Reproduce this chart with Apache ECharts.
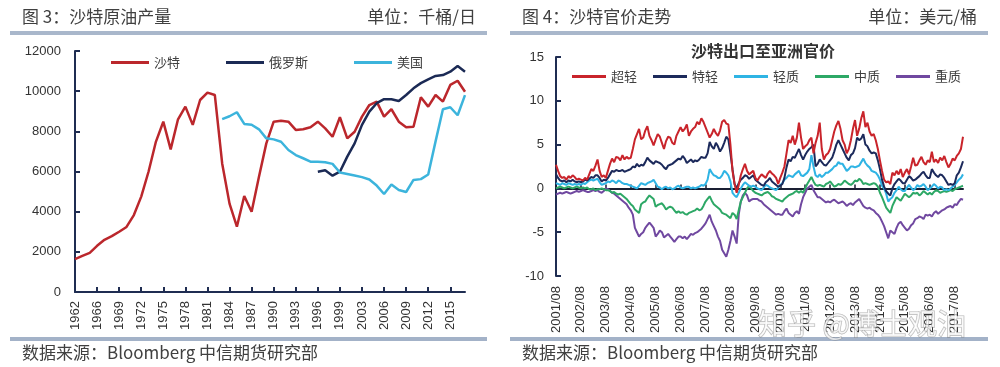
<!DOCTYPE html>
<html><head><meta charset="utf-8">
<script src="https://cdn.jsdelivr.net/npm/echarts@6/dist/echarts.min.js"></script>
<style>html,body{margin:0;padding:0;background:#fff}#c{width:1000px;height:367px}</style>
</head><body><div id="c"></div>
<script>
// ---------- Left chart: Saudi / Russia / US crude production (kb/d) ----------
const leftYears = ['1962','1964','1965','1966','1967','1968','1969','1970','1971','1972','1973','1974','1975','1976','1977','1978','1979','1980','1981','1982','1983','1984','1985','1986','1987','1988','1989','1990','1991','1992','1993','1994','1995','1996','1997','1998','1999','2000','2001','2003','2004','2005','2006','2007','2008','2009','2010','2011','2012','2013','2014','2015','2016','2017'];
const saudi = [1640,1800,1950,2300,2600,2780,3000,3240,3830,4750,6000,7490,8480,7100,8600,9230,8320,9560,9930,9810,6400,4400,3250,4780,4000,5740,7400,8480,8530,8480,8070,8100,8200,8480,8150,7730,8700,7650,7980,8730,9310,9480,8730,9100,8480,8200,8230,9700,9230,9810,9480,10310,10520,9970];
const russia = [null,null,null,null,null,null,null,null,null,null,null,null,null,null,null,null,null,null,null,null,null,null,null,null,null,null,null,null,null,null,null,null,null,
  5990,6060,5790,5990,6740,7400,8320,8980,9400,9600,9600,9510,9810,10140,10400,10590,10760,10800,10970,11250,10970];
const usa = [null,null,null,null,null,null,null,null,null,null,null,null,null,null,null,null,null,null,null,null,
  8610,8750,8950,8370,8330,8100,7650,7600,7480,7070,6820,6660,6490,6480,6460,6380,5950,5880,5800,5720,5600,5300,4880,5350,5080,4980,5580,5620,5850,7500,9100,9200,8800,9800];
const leftNames = ['沙特','俄罗斯','美国'];

// ---------- Right chart: Saudi OSP to Asia (USD/bbl), monthly 2001/08 - 2017/12 ----------
const superLight = [
 2.7,2.0,1.4,1.2,1.3,1.0,1.4,1.2,1.5,1.3,1.0,1.1,
 1.0,0.9,1.2,1.0,1.6,2.2,2.0,2.6,3.3,2.0,1.3,1.5,
 1.2,2.0,2.8,3.4,3.0,3.6,3.5,3.2,3.8,3.3,3.6,3.4,
 3.5,4.5,5.6,6.2,6.8,5.6,5.8,6.6,7.1,6.0,5.5,4.9,
 5.6,6.2,5.9,5.2,4.5,5.4,5.9,5.8,5.2,5.0,6.0,6.5,
 7.0,6.5,6.8,7.3,6.0,6.5,6.8,7.0,7.6,7.3,8.0,7.6,
 7.0,6.4,5.8,6.2,6.8,6.3,6.0,6.6,7.6,7.8,7.4,7.3,
 5.0,2.0,0.5,-0.5,0.4,1.5,2.2,2.8,2.0,1.6,1.8,2.0,
 1.2,0.9,1.3,1.6,1.4,1.2,1.7,2.0,1.7,1.5,1.2,0.5,
 1.2,1.8,2.5,4.0,5.5,5.2,6.0,5.0,5.8,7.5,5.8,4.5,
 4.8,5.0,5.5,5.8,4.0,5.2,6.0,7.5,4.5,3.3,3.8,4.0,
 4.5,5.5,6.5,7.2,7.7,6.8,5.5,5.0,4.0,4.5,5.5,6.8,
 7.8,6.0,6.8,8.0,8.8,7.0,7.5,6.5,6.0,6.2,5.5,4.5,
 3.2,2.0,1.0,0.7,0.8,0.5,1.8,1.5,2.0,1.6,2.2,1.3,
 1.8,2.2,1.6,2.5,3.5,2.6,2.7,3.2,3.6,3.0,2.7,3.2,
 3.0,4.2,3.0,3.3,2.9,3.5,3.2,3.7,3.0,2.4,2.8,3.4,
 3.2,3.7,4.0,4.5,5.9];
const extraLight = [
 1.6,1.2,0.9,0.8,0.9,0.7,0.9,0.8,1.0,0.8,0.7,0.8,
 0.7,0.8,1.0,0.9,1.1,1.3,1.2,1.5,1.5,1.2,0.8,1.0,
 0.9,1.2,1.6,2.0,1.9,2.1,2.0,2.0,2.1,1.9,2.0,2.1,
 2.2,2.5,2.4,2.8,2.5,2.7,2.6,3.0,3.5,3.2,3.0,2.8,
 3.1,3.0,2.9,2.7,2.4,2.2,2.6,2.7,2.8,3.0,3.2,3.4,
 3.3,3.7,3.4,2.9,3.1,3.3,3.0,3.2,3.1,3.3,3.6,3.5,
 3.5,4.0,5.3,4.8,4.5,5.2,4.8,4.2,4.6,5.2,5.9,5.6,
 4.0,2.2,0.5,0.0,0.6,1.0,1.2,1.5,1.4,1.1,1.3,1.5,
 1.0,0.8,0.6,0.4,0.3,0.7,0.9,1.2,0.8,0.6,0.4,0.2,
 0.3,0.5,1.2,2.4,3.3,3.1,3.6,3.5,4.0,4.5,3.8,3.3,
 3.8,4.2,4.5,4.7,5.0,2.5,2.8,3.3,3.0,2.7,2.6,2.9,
 3.2,3.5,4.2,5.0,5.5,5.0,4.5,4.0,3.5,3.2,3.8,4.0,
 4.6,5.8,5.5,5.7,6.2,5.0,4.8,4.3,4.0,4.1,4.0,3.2,
 2.2,1.0,0.2,-0.3,-0.6,-0.8,0.0,0.5,0.8,1.1,0.9,0.6,
 0.6,1.0,1.4,1.2,0.9,1.0,1.2,1.4,1.7,1.9,1.5,1.2,
 1.2,2.2,1.8,1.5,1.3,1.6,1.5,1.2,0.8,0.4,0.5,0.4,
 0.6,1.5,1.8,2.4,3.1];
const light = [
 0.6,0.5,0.4,0.6,0.5,0.4,0.6,0.5,0.4,0.5,0.4,0.5,
 0.4,0.6,0.5,0.7,0.9,1.0,0.9,1.0,1.1,0.7,0.4,0.5,
 0.6,0.8,0.7,0.9,0.8,0.6,0.9,0.8,0.6,0.5,0.5,0.4,
 0.3,0.2,0.1,0.0,0.3,0.6,0.5,0.4,0.6,0.7,0.8,1.0,
 0.6,0.2,0.1,-0.1,0.1,0.2,0.0,0.1,-0.1,0.0,0.2,0.3,
 0.1,0.0,0.1,0.2,0.2,0.0,0.1,0.0,0.1,0.2,0.4,0.3,
 0.5,1.0,2.2,1.8,1.5,1.4,1.2,1.2,1.5,2.0,1.8,1.5,
 0.8,-0.5,-0.8,-1.0,-0.5,0.0,0.4,0.7,0.5,0.3,0.2,0.3,
 0.2,0.0,-0.1,-0.2,0.1,0.4,0.3,0.1,0.0,-0.1,-0.2,0.1,
 0.4,0.6,1.0,1.2,1.5,1.4,1.3,1.6,1.8,2.0,1.5,1.4,
 1.6,1.8,2.2,3.8,2.5,1.5,1.3,1.6,1.3,1.5,1.8,1.8,
 2.0,2.2,2.5,2.6,3.0,2.8,2.8,2.4,2.0,2.2,2.5,2.5,
 2.4,2.5,2.6,3.0,3.4,2.9,2.6,2.4,2.0,1.9,1.8,1.5,
 1.0,0.3,0.0,-0.6,-1.5,-1.2,-1.0,-0.5,-0.2,0.2,-0.1,-0.3,
 -0.3,0.1,0.4,0.1,-0.2,0.0,0.4,0.2,0.3,0.5,0.2,-0.2,
 0.0,0.2,0.5,0.3,0.0,0.2,0.1,-0.2,-0.1,-0.2,0.0,0.2,
 0.4,0.7,1.0,1.2,1.6];
const medium = [
 0.0,0.1,0.2,0.1,0.0,0.1,0.2,0.1,0.0,0.1,0.2,0.1,
 0.0,0.1,0.0,0.1,-0.1,-0.1,0.0,-0.2,-0.1,-0.1,0.0,-0.1,
 -0.2,-0.2,-0.3,-0.5,-0.4,-0.6,-0.7,-0.6,-0.8,-1.0,-1.2,-1.5,
 -1.8,-2.0,-2.4,-2.6,-2.8,-1.8,-1.6,-1.5,-1.1,-0.8,-1.0,-1.2,
 -2.1,-1.9,-1.8,-1.7,-2.0,-2.4,-2.2,-2.1,-2.2,-2.5,-2.8,-2.6,
 -2.8,-2.7,-2.9,-3.0,-2.8,-2.7,-2.6,-2.5,-2.3,-2.5,-2.4,-2.0,
 -1.5,-1.2,-0.9,-1.4,-1.8,-2.0,-2.2,-2.4,-2.8,-2.9,-3.0,-3.2,
 -3.4,-2.8,-3.0,-3.5,-2.5,-1.5,-1.0,-0.5,0.0,0.3,0.0,-0.3,
 -0.5,-0.6,-0.7,-0.8,-0.6,-0.5,-0.4,-0.6,-0.9,-1.0,-1.2,-1.3,
 -1.4,-1.5,-1.2,-1.0,-0.8,-0.7,-0.6,-0.4,-0.3,-0.5,-0.3,-0.5,
 0.0,0.5,0.9,1.3,0.8,0.4,0.3,0.4,0.3,0.2,0.5,0.6,
 0.8,0.5,0.2,0.3,0.5,0.4,0.6,0.9,0.7,0.5,0.4,0.6,
 0.9,0.8,1.1,0.9,0.5,0.6,0.5,0.4,0.5,0.6,0.5,0.2,
 -0.5,-1.0,-1.6,-2.2,-2.5,-2.8,-2.0,-1.5,-1.0,-1.2,-1.4,-1.0,
 -0.6,-0.8,-1.0,-0.8,-0.5,-0.6,-0.5,-0.8,-0.6,-0.3,-0.5,-0.7,
 -0.5,-0.7,-0.4,-0.2,-0.3,-0.5,-0.4,-0.3,-0.4,-0.3,-0.2,-0.3,
 -0.1,0.0,0.1,0.2,0.3];
const heavy = [
 -0.7,-0.6,-0.5,-0.6,-0.5,-0.4,-0.5,-0.6,-0.5,-0.4,-0.3,-0.4,
 -0.3,-0.2,-0.3,-0.4,-0.4,-0.3,-0.2,-0.3,-0.2,-0.4,-0.5,-0.3,
 0.0,-0.1,-0.3,-0.5,-0.6,-0.8,-1.0,-1.2,-1.4,-1.6,-1.8,-2.2,
 -2.5,-3.0,-4.5,-5.0,-5.5,-5.2,-5.0,-4.5,-4.2,-3.9,-4.2,-4.5,
 -5.5,-5.2,-4.8,-5.0,-5.6,-5.4,-5.2,-5.5,-5.8,-6.1,-5.8,-5.5,
 -5.5,-5.7,-5.5,-5.8,-5.5,-5.2,-5.3,-5.1,-5.0,-4.8,-4.6,-4.3,
 -4.0,-3.5,-3.0,-3.8,-4.3,-4.8,-5.5,-6.0,-7.0,-7.4,-7.8,-7.0,
 -6.0,-4.8,-5.5,-6.3,-3.0,-1.5,-0.8,-0.5,-0.8,-1.5,-1.3,-1.2,
 -1.2,-1.2,-1.4,-1.5,-1.8,-2.0,-2.2,-2.4,-2.6,-2.8,-3.0,-2.9,
 -3.0,-3.0,-2.6,-2.3,-2.8,-3.0,-3.2,-2.8,-2.6,-2.9,-1.8,-1.0,
 -0.5,0.0,0.2,0.4,-0.2,-0.6,-1.0,-1.0,-1.2,-1.4,-1.6,-1.5,
 -1.6,-1.4,-1.3,-1.5,-1.7,-1.6,-1.5,-1.7,-2.0,-1.8,-1.7,-1.9,
 -1.6,-1.4,-1.2,-1.6,-2.0,-2.2,-2.3,-2.2,-2.4,-2.5,-2.8,-3.0,
 -3.3,-3.8,-4.3,-5.0,-5.7,-4.8,-5.0,-5.2,-4.5,-4.0,-3.8,-4.2,
 -4.5,-4.8,-4.6,-4.2,-4.0,-3.5,-3.4,-3.2,-3.3,-3.5,-3.0,-3.1,
 -3.0,-3.2,-2.8,-2.6,-2.9,-2.7,-2.5,-2.4,-2.2,-2.1,-2.0,-2.2,
 -1.8,-1.9,-1.5,-1.2,-1.3];
const rightNames = ['超轻','特轻','轻质','中质','重质'];

// month category labels 2001/08 ...
const months = [];
for (let i = 0; i < superLight.length; i++) {
  const t = 2001 * 12 + 7 + i;
  months.push(Math.floor(t / 12) + '/' + String(t % 12 + 1).padStart(2, '0'));
}

const CJK = "'Noto Sans CJK SC', sans-serif";
const NUM = "'Liberation Sans', Arial, sans-serif";
const AX = '#1f2d52';
const TXT = '#404040';

const chart = echarts.init(document.getElementById('c'), null, {renderer: 'canvas'});
const lineS = (name, data, color, xi, yi, w) => ({
  name, type: 'line', data, xAxisIndex: xi, yAxisIndex: yi, symbol: 'none',
  connectNulls: false, lineStyle: {color, width: w}, itemStyle: {color}, z: 3
});

chart.setOption({
  animation: false,
  textStyle: {fontFamily: NUM},
  grid: [
    {left: 75, top: 51, width: 390, height: 241},
    {left: 556, top: 57, width: 407, height: 219}
  ],
  legend: [
    {data: leftNames, left: 106, top: 51, itemWidth: 38, itemHeight: 3, itemGap: 46, icon: 'rect',
     textStyle: {fontFamily: CJK, fontSize: 13, color: TXT}},
    {data: rightNames, left: 567, top: 65, itemWidth: 34, itemHeight: 3, itemGap: 16, icon: 'rect',
     textStyle: {fontFamily: CJK, fontSize: 13, color: TXT}}
  ],
  xAxis: [
    {gridIndex: 0, type: 'category', data: leftYears, boundaryGap: false,
     axisLine: {onZero: false, lineStyle: {color: AX, width: 2}},
     axisTick: {inside: true, interval: 2, length: 5, lineStyle: {color: AX, width: 2}},
     axisLabel: {interval: 2, rotate: 90, fontSize: 13, color: '#333', margin: 9}},
    {gridIndex: 1, type: 'category', data: months, boundaryGap: false, position: 'bottom',
     axisLine: {show: false, onZero: false}, axisTick: {show: false},
     axisLabel: {interval: 11, rotate: 90, fontSize: 13, color: '#333', margin: 10}},
    {gridIndex: 1, type: 'category', data: months, boundaryGap: false, position: 'top',
     axisLine: {onZero: true, lineStyle: {color: '#1a1f33', width: 2}},
     axisTick: {show: true, inside: false, interval: 11, length: 4, lineStyle: {color: '#1a1f33', width: 1.5}},
     axisLabel: {show: false}}
  ],
  yAxis: [
    {gridIndex: 0, type: 'value', min: 0, max: 12000, interval: 2000,
     axisLine: {show: true, onZero: false, lineStyle: {color: AX, width: 2}},
     axisTick: {show: true, inside: true, length: 5, lineStyle: {color: AX, width: 2}},
     splitLine: {show: false},
     axisLabel: {fontSize: 13, color: '#333', margin: 14, formatter: v => String(v)}},
    {gridIndex: 1, type: 'value', min: -10, max: 15, interval: 5,
     axisLine: {show: true, onZero: false, lineStyle: {color: AX, width: 2}},
     axisTick: {show: true, inside: true, length: 5, lineStyle: {color: AX, width: 2}},
     splitLine: {show: false},
     axisLabel: {fontSize: 13, color: '#333', margin: 12, formatter: v => String(v)}}
  ],
  series: [
    lineS(leftNames[0], saudi, '#bb272c', 0, 0, 2.5),
    lineS(leftNames[1], russia, '#1b2a55', 0, 0, 2.5),
    lineS(leftNames[2], usa, '#3cb4dc', 0, 0, 2.5),
    lineS(rightNames[4], heavy, '#7048a0', 1, 1, 2),
    lineS(rightNames[3], medium, '#2da866', 1, 1, 2),
    lineS(rightNames[2], light, '#2fb4e4', 1, 1, 2),
    lineS(rightNames[1], extraLight, '#1c2a5b', 1, 1, 2),
    lineS(rightNames[0], superLight, '#c9242b', 1, 1, 2)
  ],
  graphic: [
    {type: 'text', x: 22, y: 17, style: {text: '图 3：沙特原油产量', fontSize: 17, fontFamily: CJK, fill: TXT, verticalAlign: 'middle'}},
    {type: 'text', x: 476, y: 17, style: {text: '单位：千桶/日', fontSize: 17, fontFamily: CJK, fill: TXT, align: 'right', verticalAlign: 'middle'}},
    {type: 'text', x: 522, y: 17, style: {text: '图 4：沙特官价走势', fontSize: 17, fontFamily: CJK, fill: TXT, verticalAlign: 'middle'}},
    {type: 'text', x: 977, y: 17, style: {text: '单位：美元/桶', fontSize: 17, fontFamily: CJK, fill: TXT, align: 'right', verticalAlign: 'middle'}},
    {type: 'rect', shape: {x: 10, y: 31, width: 477, height: 4}, style: {fill: '#a9b7cb'}},
    {type: 'rect', shape: {x: 510, y: 31, width: 478, height: 4}, style: {fill: '#a9b7cb'}},
    {type: 'rect', shape: {x: 10, y: 337, width: 477, height: 4}, style: {fill: '#a3b2c8'}},
    {type: 'rect', shape: {x: 510, y: 337, width: 478, height: 4}, style: {fill: '#a3b2c8'}},
    {type: 'text', x: 763, y: 51, style: {text: '沙特出口至亚洲官价', fontSize: 16, fontWeight: 'bold', fontFamily: CJK, fill: '#333', align: 'center', verticalAlign: 'middle'}},
    {type: 'text', x: 22, y: 353, style: {text: '数据来源：Bloomberg 中信期货研究部', fontSize: 17, fontFamily: CJK, fill: TXT, verticalAlign: 'middle'}},
    {type: 'text', x: 522, y: 353, style: {text: '数据来源：Bloomberg 中信期货研究部', fontSize: 17, fontFamily: CJK, fill: TXT, verticalAlign: 'middle'}},
    {type: 'text', x: 758, y: 324, z: 100, style: {text: '知乎 @博士观油', fontSize: 29, fontFamily: CJK, fill: 'rgba(255,255,255,0.7)', stroke: 'rgba(120,120,120,0.55)', lineWidth: 1.2, verticalAlign: 'middle'}}
  ]
});
</script></body></html>
